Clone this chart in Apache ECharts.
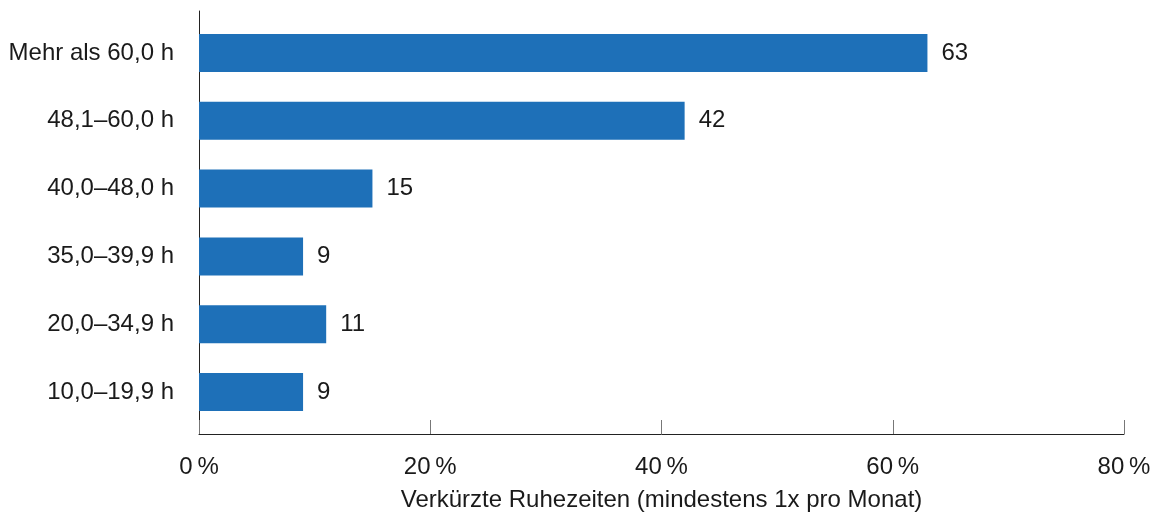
<!DOCTYPE html>
<html>
<head>
<meta charset="utf-8">
<script src="https://cdn.jsdelivr.net/npm/echarts@6/dist/echarts.min.js"></script>
<style>
  html, body { margin: 0; padding: 0; background: #fff; }
  #chart { width: 1159px; height: 517px; }
</style>
</head>
<body>
<div id="chart"></div>
<script>
// categories listed bottom to top (category axis starts at bottom)
var categories = ['10,0–19,9 h', '20,0–34,9 h', '35,0–39,9 h', '40,0–48,0 h', '48,1–60,0 h', 'Mehr als 60,0 h'];
var values = [9, 11, 9, 15, 42, 63];
var xTicks = [0, 20, 40, 60, 80];
var xName = 'Verkürzte Ruhezeiten (mindestens 1x pro Monat)';

var chart = echarts.init(document.getElementById('chart'));
var font = 'Liberation Sans, Arial, sans-serif';

var option = {
  animation: false,
  textStyle: { fontFamily: font },
  grid: [
    // data grid
    { left: 199, right: 35, top: 19, bottom: 91 },
    // axis frame grid (axis lines, ticks, tick labels)
    { left: 199, right: 35, top: 11, bottom: 83 }
  ],
  xAxis: [
    {
      gridIndex: 0, type: 'value',
      min: xTicks[0], max: xTicks[xTicks.length - 1], interval: 20,
      show: false
    },
    {
      gridIndex: 1, type: 'value',
      min: xTicks[0], max: xTicks[xTicks.length - 1], interval: 20,
      axisLine: { show: true, lineStyle: { color: '#222', width: 1 } },
      axisTick: { show: true, inside: true, length: 14, lineStyle: { color: '#777', width: 1 } },
      splitLine: { show: false },
      axisLabel: {
        margin: 21, color: '#1a1a1a', fontSize: 24, fontFamily: font,
        formatter: function (v) { return v + '\u2009%'; }
      },
      name: xName,
      nameLocation: 'middle',
      nameGap: 54,
      nameTextStyle: { color: '#1a1a1a', fontSize: 24, fontFamily: font }
    }
  ],
  yAxis: [
    {
      gridIndex: 0, type: 'category', data: categories,
      axisLine: { show: false },
      axisTick: { show: false },
      axisLabel: { margin: 25, color: '#1a1a1a', fontSize: 24, fontFamily: font }
    },
    {
      gridIndex: 1, type: 'value', min: 0, max: 1,
      axisLine: { show: true, lineStyle: { color: '#222', width: 1 } },
      axisTick: { show: false },
      axisLabel: { show: false },
      splitLine: { show: false }
    }
  ],
  series: [
    {
      type: 'bar',
      xAxisIndex: 0, yAxisIndex: 0,
      data: values,
      barWidth: 38,
      itemStyle: { color: '#1e70b8' },
      label: {
        show: true, position: 'right', distance: 14,
        color: '#1a1a1a', fontSize: 24, fontFamily: font
      }
    }
  ]
};

chart.setOption(option);
</script>
</body>
</html>
